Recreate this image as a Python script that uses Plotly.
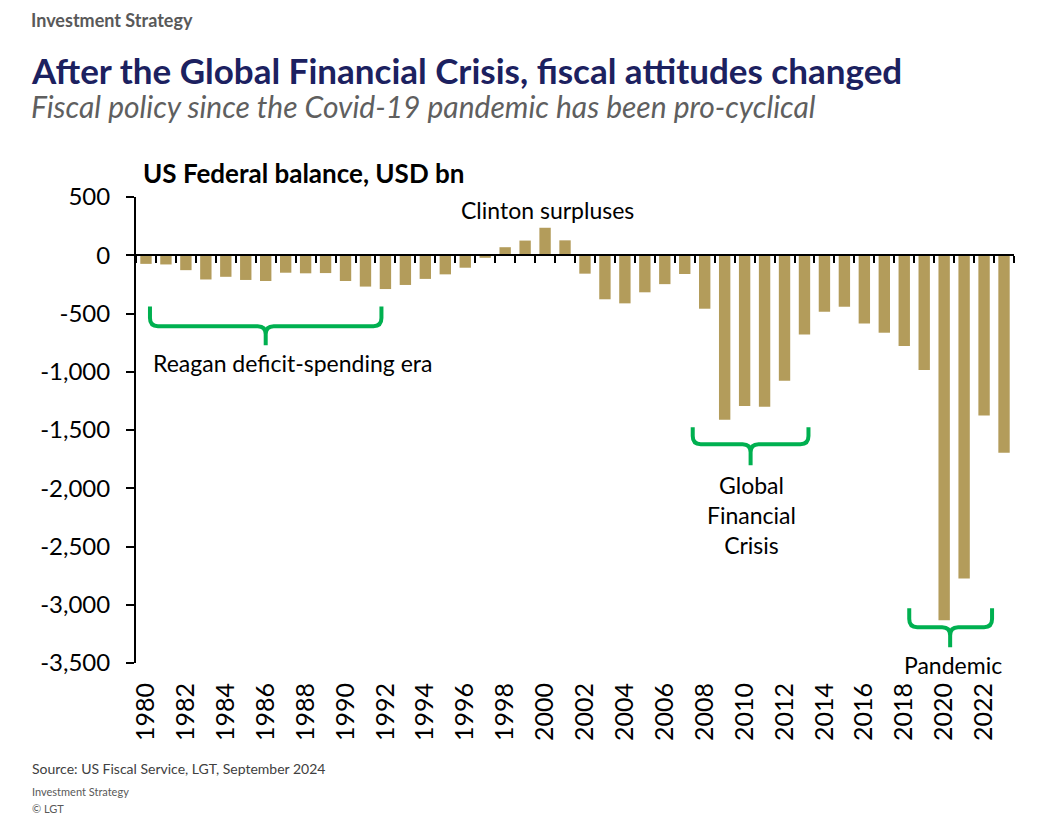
import plotly.graph_objects as go

years = list(range(1980, 2024))
balance = [-74, -79, -128, -208, -185, -212, -221, -150, -155, -153,
           -221, -269, -290, -255, -203, -164, -107, -22, 69, 126,
           236, 128, -158, -378, -413, -318, -248, -161, -459, -1413,
           -1294, -1300, -1077, -680, -485, -442, -585, -665, -779, -984,
           -3132, -2775, -1376, -1695]
label_years = list(range(1980, 2023, 2))
y_ticks = [500, 0, -500, -1000, -1500, -2000, -2500, -3000, -3500]
y_labels = ["500", "0", "-500", "-1,000", "-1,500", "-2,000", "-2,500", "-3,000", "-3,500"]

# brackets: (x_left, x_right, x_tip, y_top, y_bar, y_tip)
brackets = [
    (1980.2, 1991.8, 1986.0, -440, -609, -773),
    (2007.4, 2013.2, 2010.3, -1476, -1622, -1803),
    (2018.25, 2022.4, 2020.3, -3030, -3193, -3365),
]

GOLD = "#B39C5B"
GREEN = "#00B050"
NAVY = "#1C2160"
FONT = "Lato"

OFF = 8  # browser body margin
PLOT_L, PLOT_R, PLOT_T, PLOT_B = 136, 1014, 197, 663  # plot area in screen pixels
W, H = 1054 - OFF, 821 - OFF
L, T = PLOT_L - OFF, PLOT_T - OFF
R, B = 1054 - PLOT_R, 821 - PLOT_B
PW, PH = PLOT_R - PLOT_L, PLOT_B - PLOT_T


def px(x):
    return (x - PLOT_L) / PW


def py(y):
    return (PLOT_B - y) / PH


def brace(x0, x1, xt, ytop, ybar, ytip):
    dx = 0.4
    c = 70
    return (f"M {x0},{ytop} L {x0},{ybar + c} Q {x0},{ybar} {x0 + dx},{ybar} "
            f"L {xt - dx},{ybar} Q {xt},{ybar} {xt},{ybar - c} L {xt},{ytip} "
            f"M {xt},{ybar - c} Q {xt},{ybar} {xt + dx},{ybar} "
            f"L {x1 - dx},{ybar} Q {x1},{ybar} {x1},{ybar + c} L {x1},{ytop}")


fig = go.Figure()
fig.add_trace(go.Bar(x=years, y=balance, marker_color=GOLD, width=0.57,
                     marker_line_width=0, hoverinfo="x+y"))
# invisible trace so the zero-line axis is drawn
fig.add_trace(go.Scatter(x=[years[0]], y=[0], xaxis="x2", mode="markers",
                         marker=dict(opacity=0), showlegend=False, hoverinfo="skip"))

for b in brackets:
    fig.add_shape(type="path", path=brace(*b), xref="x", yref="y",
                  line=dict(color=GREEN, width=4), layer="above")

xr = [years[0] - 0.5, years[-1] + 0.5]
fig.update_layout(
    width=W, height=H,
    margin=dict(l=L, r=R, t=T, b=B),
    plot_bgcolor="white", paper_bgcolor="white",
    showlegend=False,
    font=dict(family=FONT, color="black"),
    xaxis=dict(range=xr, tickmode="array", tickvals=label_years,
               ticktext=[str(y) for y in label_years], tickangle=-90,
               ticks="", showline=False, showgrid=False, zeroline=False,
               tickfont=dict(size=25, family=FONT, color="black"),
               ticklabelstandoff=14),
    xaxis2=dict(range=xr, overlaying="x", anchor="free",
                position=(0 - y_ticks[-1]) / (y_ticks[0] - y_ticks[-1]),
                tickmode="array", tickvals=[y - 0.5 for y in years] + [years[-1] + 0.5],
                ticks="outside", ticklen=7, tickwidth=2, tickcolor="black",
                showticklabels=False, showline=True, linecolor="black", linewidth=2,
                showgrid=False, zeroline=False),
    yaxis=dict(range=[y_ticks[-1], y_ticks[0]], tickmode="array", tickvals=y_ticks,
               ticktext=y_labels, ticks="outside", ticklen=8, tickwidth=2,
               tickcolor="black", showline=True, linecolor="black", linewidth=2,
               showgrid=False, zeroline=False, ticklabelstandoff=11,
               tickfont=dict(size=24, family=FONT, color="black")),
)

fig.add_annotation(text="<b>Investment Strategy</b>", x=px(30), y=py(OFF), xref="paper", yref="paper",
                   xanchor="left", yanchor="top", showarrow=False, borderpad=0,
                   font=dict(size=18, color="#595959", family=FONT))

ann = [
    dict(text="<b>After the Global Financial Crisis, fiscal attitudes changed</b>",
         x=px(29), y=py(70), size=35, color=NAVY),
    dict(text="<i>Fiscal policy since the Covid-19 pandemic has been pro-cyclical</i>",
         x=px(29), y=py(106), size=30, color="#5F5F5F"),
    dict(text="<b>US Federal balance, USD bn</b>", x=px(141), y=py(173), size=26, color="black"),
    dict(text="Source: US Fiscal Service, LGT, September 2024", x=px(30), y=py(768), size=14, color="#404040"),
    dict(text="Investment Strategy", x=px(30), y=py(791), size=11, color="#595959"),
    dict(text="© LGT", x=px(30), y=py(808), size=11, color="#595959"),
    dict(text="Clinton surpluses", x=px(459), y=py(210), size=23, color="black"),
    dict(text="Reagan deficit-spending era", x=px(151), y=py(363), size=23, color="black"),
]
for a in ann:
    fig.add_annotation(text=a["text"], x=a["x"], y=a["y"], xref="paper", yref="paper",
                       xanchor="left", yanchor="middle", showarrow=False,
                       font=dict(size=a["size"], color=a["color"], family=FONT))

for text, x, y in [("Global<br>Financial<br>Crisis", 751, 515), ("Pandemic", 953, 665)]:
    fig.add_annotation(text=text, x=px(x), y=py(y), xref="paper", yref="paper",
                       xanchor="center", yanchor="middle", showarrow=False,
                       font=dict(size=23, color="black", family=FONT), align="center")

fig.write_html("out.html")
